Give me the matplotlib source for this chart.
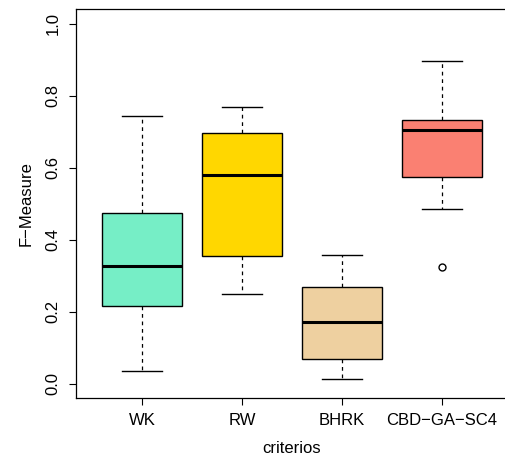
import matplotlib.pyplot as plt

plt.rcParams['font.family'] = ['Liberation Sans', 'DejaVu Sans']

criterios = ['WK', 'RW', 'BHRK', 'CBD\u2212GA\u2212SC4']
whislo = [0.034, 0.249, 0.014, 0.485]
q1 = [0.217, 0.355, 0.068, 0.575]
med = [0.326, 0.579, 0.170, 0.704]
q3 = [0.474, 0.696, 0.268, 0.732]
whishi = [0.743, 0.768, 0.358, 0.896]
fliers = [[], [], [], [0.325]]
colores = ['#76EEC6', '#FFD700', '#EED0A0', '#FA8072']

stats = []
for i, nombre in enumerate(criterios):
    stats.append({'label': nombre, 'whislo': whislo[i], 'q1': q1[i], 'med': med[i],
                  'q3': q3[i], 'whishi': whishi[i], 'fliers': fliers[i]})

fig = plt.figure(figsize=(5.05, 4.61), dpi=100)
ax = fig.add_axes([76 / 505, 63 / 461, 432 / 505, 388.5 / 461])

bp = ax.bxp(stats, widths=0.8, capwidths=0.4, patch_artist=True,
            boxprops=dict(edgecolor='black', linewidth=1),
            medianprops=dict(color='black', linewidth=2.2),
            whiskerprops=dict(color='black', linewidth=0.9, linestyle=(0, (3, 3))),
            capprops=dict(color='black', linewidth=1),
            flierprops=dict(marker='o', markerfacecolor='white', markeredgecolor='black',
                            markersize=5, markeredgewidth=1))
for caja, c in zip(bp['boxes'], colores):
    caja.set_facecolor(c)

ax.set_xlim(0.34, 4.66)
ax.set_ylim(-0.04, 1.04)
ax.set_yticks([0.0, 0.2, 0.4, 0.6, 0.8, 1.0])
ax.set_yticklabels(['0.0', '0.2', '0.4', '0.6', '0.8', '1.0'], rotation=90, va='center')
ax.tick_params(axis='both', direction='out', length=5, width=0.8, labelsize=12, pad=6)
ax.set_xlabel('criterios', fontsize=12, labelpad=9)
ax.set_ylabel('F\u2212Measure', fontsize=12, labelpad=9)
for s in ax.spines.values():
    s.set_linewidth(0.9)

plt.savefig('out.png', dpi=100)
